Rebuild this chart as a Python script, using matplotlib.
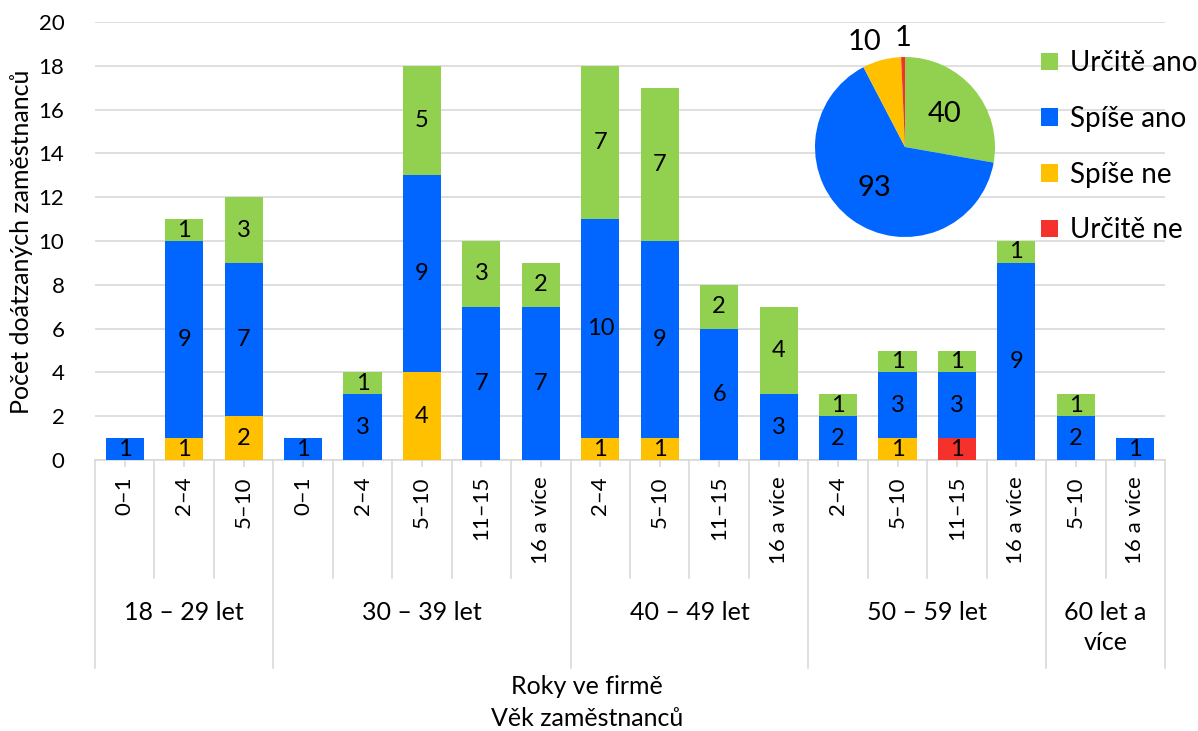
import matplotlib
matplotlib.use("Agg")
import matplotlib.pyplot as plt
import numpy as np
from matplotlib.patches import Patch

plt.rcParams['font.family'] = ['Lato', 'DejaVu Sans']

# ---------------- data ----------------
groups = ["18 – 29 let", "30 – 39 let", "40 – 49 let", "50 – 59 let", "60 let a\nvíce"]
sub_cats = [
    ["0–1", "2–4", "5–10"],
    ["0–1", "2–4", "5–10", "11–15", "16 a více"],
    ["2–4", "5–10", "11–15", "16 a více"],
    ["2–4", "5–10", "11–15", "16 a více"],
    ["5–10", "16 a více"],
]
series_names = ["Určitě ano", "Spíše ano", "Spíše ne", "Určitě ne"]
urcite_ne = [0, 0, 0,  0, 0, 0, 0, 0,  0, 0, 0, 0,  0, 0, 1, 0,  0, 0]
spise_ne  = [0, 1, 2,  0, 0, 4, 0, 0,  1, 1, 0, 0,  0, 1, 0, 0,  0, 0]
spise_ano = [1, 9, 7,  1, 3, 9, 7, 7,  10, 9, 6, 3,  2, 3, 3, 9,  2, 1]
urcite_ano= [0, 1, 3,  0, 1, 5, 3, 2,  7, 7, 2, 4,  1, 1, 1, 1,  1, 0]
pie_values = [40, 93, 10, 1]   # Určitě ano, Spíše ano, Spíše ne, Určitě ne

colors = {"Určitě ano": "#92D050", "Spíše ano": "#0066FF",
          "Spíše ne": "#FFC000", "Určitě ne": "#F5312B"}

y_ticks = list(range(0, 21, 2))
y_label = "Počet doátzaných zaměstnanců"
x_label1 = "Roky ve firmě"
x_label2 = "Věk zaměstnanců"

# ---------------- figure ----------------
W, H = 1198, 731
fig = plt.figure(figsize=(W / 100, H / 100), dpi=100)
axL, axR, axB, axT = 95, 1165, 460, 22
ax = fig.add_axes([axL / W, 1 - axB / H, (axR - axL) / W, (axB - axT) / H])

labels_flat = [c for g in sub_cats for c in g]
n = len(labels_flat)
x = np.arange(n)
width = 0.64

bottom = np.zeros(n)
stack = [("Určitě ne", urcite_ne), ("Spíše ne", spise_ne),
         ("Spíše ano", spise_ano), ("Určitě ano", urcite_ano)]
for name, vals in stack:
    vals = np.array(vals, dtype=float)
    bars = ax.bar(x, vals, width, bottom=bottom, color=colors[name], zorder=3)
    ax.bar_label(bars, labels=[str(int(v)) if v > 0 else "" for v in vals],
                 label_type='center', fontsize=17, color='black')
    bottom += vals

ax.set_xlim(-0.5, n - 0.5)
ax.set_ylim(0, 20)
ax.set_yticks(y_ticks)
ax.tick_params(axis='y', length=0, labelsize=16, pad=22)
ax.grid(axis='y', color='#D9D9D9', linewidth=1.2, zorder=0)
for s in ['top', 'right', 'left']:
    ax.spines[s].set_visible(False)
ax.spines['bottom'].set_color('#D9D9D9')
ax.spines['bottom'].set_linewidth(1.2)
ax.set_xticks(x)
ax.set_xticklabels([])
ax.tick_params(axis='x', length=5, color='#D9D9D9', width=1.2)

# y label
fig.text(22 / W, 1 - 242 / H, y_label, rotation=90, ha='center', va='center', fontsize=18)

# category labels / separators
def ay(ypix):
    return (axB - ypix) / (axB - axT)

trans = ax.get_xaxis_transform()
for i, lab in enumerate(labels_flat):
    ax.text(i, ay(476), lab, rotation=90, ha='center', va='top', fontsize=16,
            transform=trans, clip_on=False)

group_bounds = [0]
for g in sub_cats:
    group_bounds.append(group_bounds[-1] + len(g))
for k in range(n + 1):
    bx = k - 0.5
    y_end = ay(668) if k in group_bounds else ay(578)
    ax.plot([bx, bx], [0, y_end], color='#D9D9D9', lw=1.2, transform=trans,
            clip_on=False, zorder=1)
for gi, gname in enumerate(groups):
    cx = (group_bounds[gi] + group_bounds[gi + 1]) / 2 - 0.5
    ax.text(cx, ay(601), gname, ha='center', va='top', fontsize=18,
            transform=trans, clip_on=False, linespacing=1.35)

fig.text(587 / W, 1 - 687 / H, x_label1, ha='center', va='center', fontsize=18)
fig.text(587 / W, 1 - 718 / H, x_label2, ha='center', va='center', fontsize=18)

# ---------------- pie ----------------
pcx, pcy, pr = 905, 147, 90
pax = fig.add_axes([(pcx - pr) / W, 1 - (pcy + pr) / H, 2 * pr / W, 2 * pr / H])
pie_colors = [colors[s] for s in series_names]
pax.pie(pie_values, colors=pie_colors, startangle=90, counterclock=False,
        radius=1.0)
pax.set_xlim(-1, 1)
pax.set_ylim(-1, 1)
pax.set_aspect('equal')
total = sum(pie_values)
cum = 0
for i, v in enumerate(pie_values):
    mid = 90 - (cum + v / 2) / total * 360
    cum += v
    a = np.deg2rad(mid)
    if v / total > 0.15:
        r = 0.57
        pax.text(r * np.cos(a), r * np.sin(a), str(v), ha='center', va='center', fontsize=21)
    else:
        r = 1.21
        ha = 'right' if i == 2 else 'center'
        xx = r * np.cos(a) + (0.05 if i == 2 else 0)
        pax.text(xx, r * np.sin(a), str(v), ha=ha, va='center', fontsize=21, clip_on=False)

# ---------------- legend ----------------
handles = [Patch(facecolor=colors[s], edgecolor='none') for s in series_names]
fig.legend(handles, series_names, loc='upper left', bbox_to_anchor=(1030 / W, 1 - 39 / H),
           frameon=False, fontsize=20, handlelength=0.6, handleheight=0.6,
           handletextpad=0.45, labelspacing=1.07, borderaxespad=0)

fig.savefig("out.png", dpi=100)
